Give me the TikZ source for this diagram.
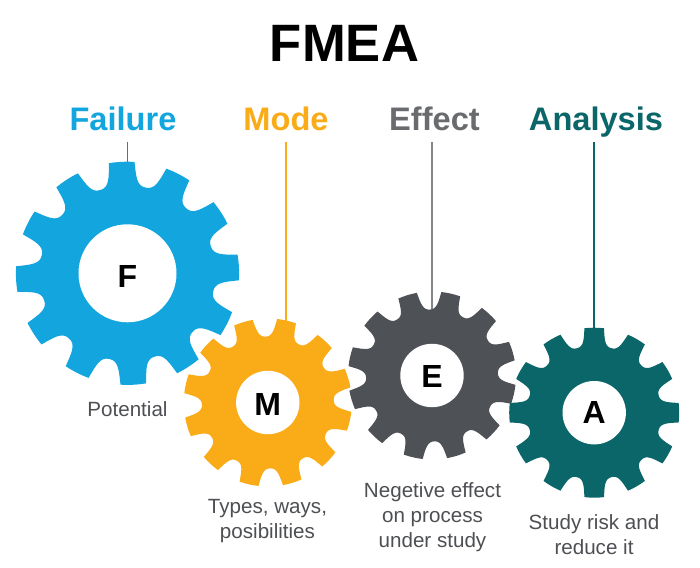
\documentclass[tikz,border=0pt]{standalone}
\usepackage{fontspec}
\setmainfont{Liberation Sans}
\definecolor{cFail}{HTML}{13A5DE}
\definecolor{cMode}{HTML}{FAAB18}
\definecolor{cEff}{HTML}{4E5156}
\definecolor{cAna}{HTML}{0B6669}
\definecolor{cTxt}{HTML}{4D4F53}
\tikzset{
    headtext/.style={font=\bfseries\fontsize{32.6}{36}\selectfont,inner sep=0pt,anchor=base},
    bodytext/.style={font=\fontsize{20.6}{25}\selectfont,text=cTxt,align=center,inner sep=0pt,anchor=base},
    hub/.style={circle,fill=white,inner sep=0pt},
    hubtext/.style={font=\bfseries\fontsize{32}{32}\selectfont,inner sep=0pt},
    wire/.style={line width=1.3pt}
}
\begin{document}
\begin{tikzpicture}[x=1pt,y=1pt]
\useasboundingbox (0,0) rectangle (700,567);

\coordinate (cFPt) at (127.5,293.7);
\coordinate (cMPt) at (267.8,164.5);
\coordinate (cEPt) at (432,191.5);
\coordinate (cAPt) at (594.2,154.3);
\coordinate (cFTop) at (127.5,425);
\coordinate (cFEnd) at (127.5,380);
\coordinate (cMTop) at (286,425);
\coordinate (cMEnd) at (286,225);
\coordinate (cETop) at (432,425);
\coordinate (cEEnd) at (432,240);
\coordinate (cATop) at (594,425);
\coordinate (cAEnd) at (594,220);

\node[font=\bfseries\fontsize{52.6}{56}\selectfont,inner sep=0pt] (title) at (344.5,524) {FMEA};
\node[headtext,text=cFail] (hF) at (123,436) {Failure};
\node[headtext,text=cMode] (hM) at (286,436) {Mode};
\node[headtext,text=cEff!85!white] (hE) at (434.5,436) {Effect};
\node[headtext,text=cAna] (hA) at (596,436) {Analysis};

%lines behind the gears
\draw[wire,cFail!85!black] (cFTop) -- (cFEnd);
\draw[wire,cMode] (cMTop) -- (cMEnd);
\draw[wire,cEff!70!white] (cETop) -- (cEEnd);
\draw[wire,cAna] (cATop) -- (cAEnd);

\foreach \v/\R/\r/\rot/\c/\t/\d in
{cFPt/111.6/49/18/cFail/F/3.5,
    cMPt/84/31.7/2/cMode/M/1.5,
    cEPt/84/31.7/2/cEff/E/1,
    cAPt/85/31.7/15/cAna/A/0}
{
    \begin{scope}[shift={(\v)}]
    \fill[\c] (\rot-8.4:\R)
        \foreach \k [evaluate=\k as \n using {\rot+30*\k}] in {0,...,11}
        { .. controls (\n-7:0.88*\R) and (\n-6.2:0.785*\R) .. (\n:0.785*\R)
          .. controls (\n+6.2:0.785*\R) and (\n+7:0.88*\R) .. (\n+8.4:\R)
          arc[start angle=\n+8.4,delta angle=13.2,radius=\R] } -- cycle;
    \end{scope}
    \node[hub,minimum size=2*\r pt] (g\t) at (\v) {};
    \node[hubtext,yshift=-\d pt] (n\t) at (\v) {\t};
};

\node[bodytext] (tF) at (127.5,150) {Potential};
\node[bodytext] (tM) at (267.5,29) {Types, ways,\\posibilities};
\node[bodytext] (tE) at (432.5,19.5) {Negetive effect\\on process\\under study};
\node[bodytext] (tA) at (594,13) {Study risk and\\reduce it};

\end{tikzpicture}
\end{document}
